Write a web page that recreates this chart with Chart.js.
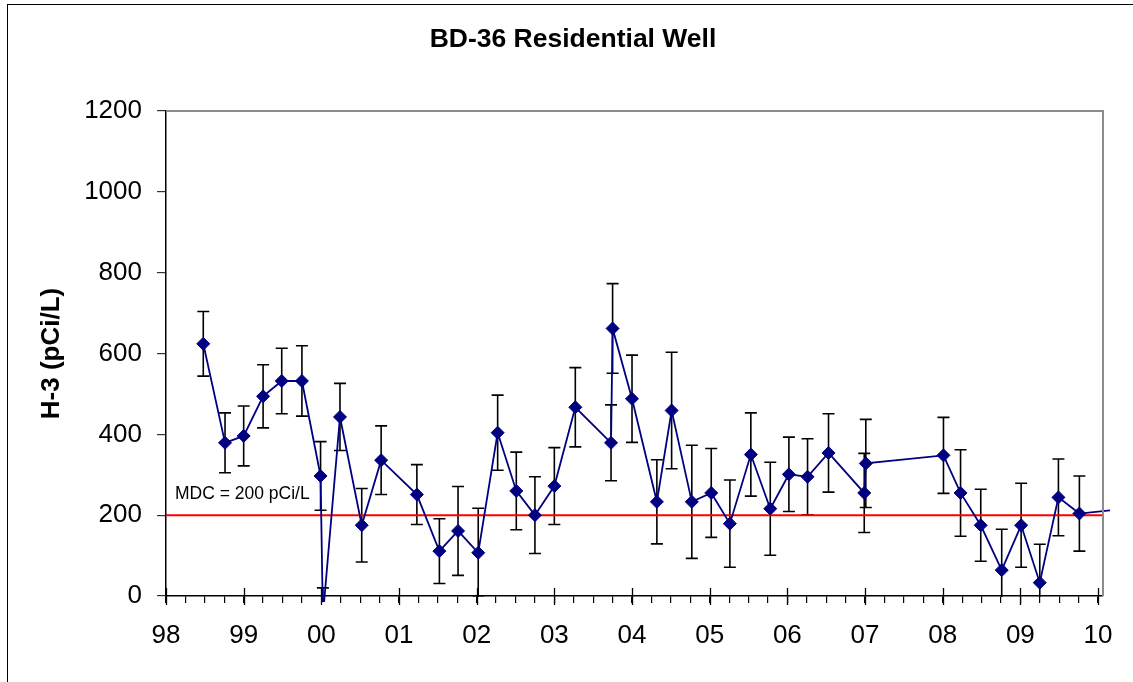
<!DOCTYPE html>
<html>
<head>
<meta charset="utf-8">
<style>
  html, body { margin: 0; padding: 0; overflow: hidden; background: #fff; }
  #frame { position: absolute; left: 7px; top: 4px; width: 1140px; height: 690px;
           border-left: 1.5px solid #000; border-top: 1.5px solid #000; }
  #myChart { position: absolute; left: 0; top: 0; }
</style>
<script src="https://cdn.jsdelivr.net/npm/chart.js"></script>
</head>
<body>
<div id="frame"></div>
<canvas id="myChart" width="1133" height="682"></canvas>
<script>
// sample dates (decimal years), H-3 results and 1-sigma counting error, pCi/L
const dates = [1998.48, 1998.76, 1999.00, 1999.25, 1999.49, 1999.75, 1999.99, 2000.02,
  2000.24, 2000.52, 2000.77, 2001.23, 2001.52, 2001.76, 2002.02, 2002.27, 2002.51,
  2002.75, 2003.00, 2003.27, 2003.73, 2003.75, 2004.00, 2004.32, 2004.51, 2004.77,
  2005.02, 2005.26, 2005.53, 2005.78, 2006.02, 2006.26, 2006.53, 2006.99, 2007.01,
  2008.01, 2008.23, 2008.49, 2008.76, 2009.01, 2009.25, 2009.49, 2009.76, 2010.25];
const h3 = [624, 379, 396, 494, 532, 532, 297, -50,
  443, 175, 336, 251, 111, 161, 107, 404, 260,
  200, 272, 467, 379, 662, 488, 233, 459, 233,
  255, 179, 350, 216, 301, 295, 354, 255, 328,
  348, 255, 175, 64, 175, 33, 244, 204, 214];
const sigma = [80, 74, 74, 78, 81, 87, 85, 70,
  83, 91, 85, 74, 80, 110, 110, 93, 96,
  95, 95, 98, 94, 111, 108, 104, 144, 140,
  110, 108, 103, 115, 92, 94, 97, 98, 109,
  94, 107, 89, 101, 104, 95, 95, 93, 90];
const yearLabels = ['98', '99', '00', '01', '02', '03', '04', '05', '06', '07', '08', '09', '10'];
const mdc = 200;
const xMin = 1998, xMax = 2010.064;
const chartTitle = 'BD-36 Residential Well';
const yTitle = 'H-3 (pCi/L)';

const FONT = '"Liberation Sans", Arial, sans-serif';

const extras = {
  id: 'extras',
  beforeDatasetsDraw(chart) {
    // error bars, clipped to the plot area
    const {ctx, chartArea: a, scales: {x, y}} = chart;
    ctx.save();
    ctx.beginPath();
    ctx.rect(a.left, a.top, a.right - a.left, a.bottom - a.top + 1);
    ctx.clip();
    ctx.strokeStyle = '#000';
    ctx.lineWidth = 1.6;
    dates.forEach((d, i) => {
      const px = x.getPixelForValue(d);
      const hi = y.getPixelForValue(h3[i] + sigma[i]);
      const lo = y.getPixelForValue(h3[i] - sigma[i]);
      ctx.beginPath();
      ctx.moveTo(px, hi); ctx.lineTo(px, lo);
      ctx.moveTo(px - 6, hi); ctx.lineTo(px + 6, hi);
      ctx.moveTo(px - 6, lo); ctx.lineTo(px + 6, lo);
      ctx.stroke();
    });
    ctx.restore();
  },
  afterDraw(chart) {
    const {ctx, chartArea: a, scales: {x, y}} = chart;
    ctx.save();
    // grey top / right edge of plot area
    ctx.strokeStyle = '#8c8c8c';
    ctx.lineWidth = 2;
    ctx.beginPath();
    ctx.moveTo(a.left, a.top);
    ctx.lineTo(a.right, a.top);
    ctx.lineTo(a.right, a.bottom);
    ctx.stroke();
    // major year ticks cross the axis
    ctx.strokeStyle = '#000';
    ctx.lineWidth = 1.3;
    for (let yr = xMin; yr <= xMax; yr++) {
      const px = Math.round(x.getPixelForValue(yr)) + 0.5;
      ctx.beginPath();
      ctx.moveTo(px, a.bottom - 8);
      ctx.lineTo(px, a.bottom + 9);
      ctx.stroke();
    }
    // title
    ctx.fillStyle = '#000';
    ctx.font = 'bold 26.5px ' + FONT;
    ctx.textAlign = 'center';
    ctx.textBaseline = 'middle';
    ctx.fillText(chartTitle, 573, 40);
    // MDC label
    ctx.font = '17.5px ' + FONT;
    ctx.textAlign = 'left';
    ctx.textBaseline = 'alphabetic';
    ctx.fillText('MDC = ' + mdc + ' pCi/L', a.left + 9, y.getPixelForValue(mdc) - 16);
    ctx.restore();
  }
};

const ctx = document.getElementById('myChart').getContext('2d');
const chart = new Chart(ctx, {
  type: 'line',
  data: {
    datasets: [{
      label: 'H-3',
      data: dates.map((d, i) => ({x: d, y: h3[i]})),
      borderColor: '#000080',
      borderWidth: 1.8,
      backgroundColor: '#000080',
      pointStyle: 'rectRot',
      pointRadius: 6.5,
      pointBackgroundColor: '#000080',
      pointBorderColor: '#000080',
      pointBorderWidth: 1,
      tension: 0,
      clip: {left: 0, top: 0, right: 7, bottom: 6}
    }, {
      label: 'MDC',
      data: [{x: xMin, y: mdc}, {x: xMax, y: mdc}],
      borderColor: '#ff0000',
      borderWidth: 2,
      pointRadius: 0,
      tension: 0
    }]
  },
  options: {
    responsive: false,
    animation: false,
    events: [],
    layout: { padding: {left: 0, top: 111, right: 30, bottom: 0} },
    plugins: {
      legend: { display: false },
      tooltip: { enabled: false },
      title: { display: false }
    },
    scales: {
      x: {
        type: 'linear',
        min: xMin,
        max: xMax,
        afterFit: s => { s.height = 86; },
        border: { color: '#000', width: 1.5 },
        grid: { drawOnChartArea: false, tickLength: 7, color: '#000', lineWidth: 1.2 },
        ticks: {
          stepSize: 0.25,
          includeBounds: false,
          autoSkip: false,
          maxRotation: 0,
          minRotation: 0,
          padding: 17,
          color: '#000',
          font: { family: FONT, size: 26 },
          callback: v => {
            const r = Math.round(v);
            return Math.abs(v - r) < 1e-6 ? yearLabels[r - xMin] : '';
          }
        }
      },
      y: {
        min: 0,
        max: 1200,
        afterFit: s => { s.width = 166; },
        border: { color: '#000', width: 1.5 },
        grid: { drawOnChartArea: false, tickLength: 9, color: '#333', lineWidth: 1.2 },
        ticks: {
          stepSize: 200,
          padding: 15,
          color: '#000',
          font: { family: FONT, size: 26 },
          callback: v => String(v)
        },
        title: {
          display: true,
          text: yTitle,
          color: '#000',
          font: { family: FONT, size: 26, weight: 'bold' },
          padding: { top: 36, bottom: 0 }
        }
      }
    }
  },
  plugins: [extras]
});
</script>
</body>
</html>
